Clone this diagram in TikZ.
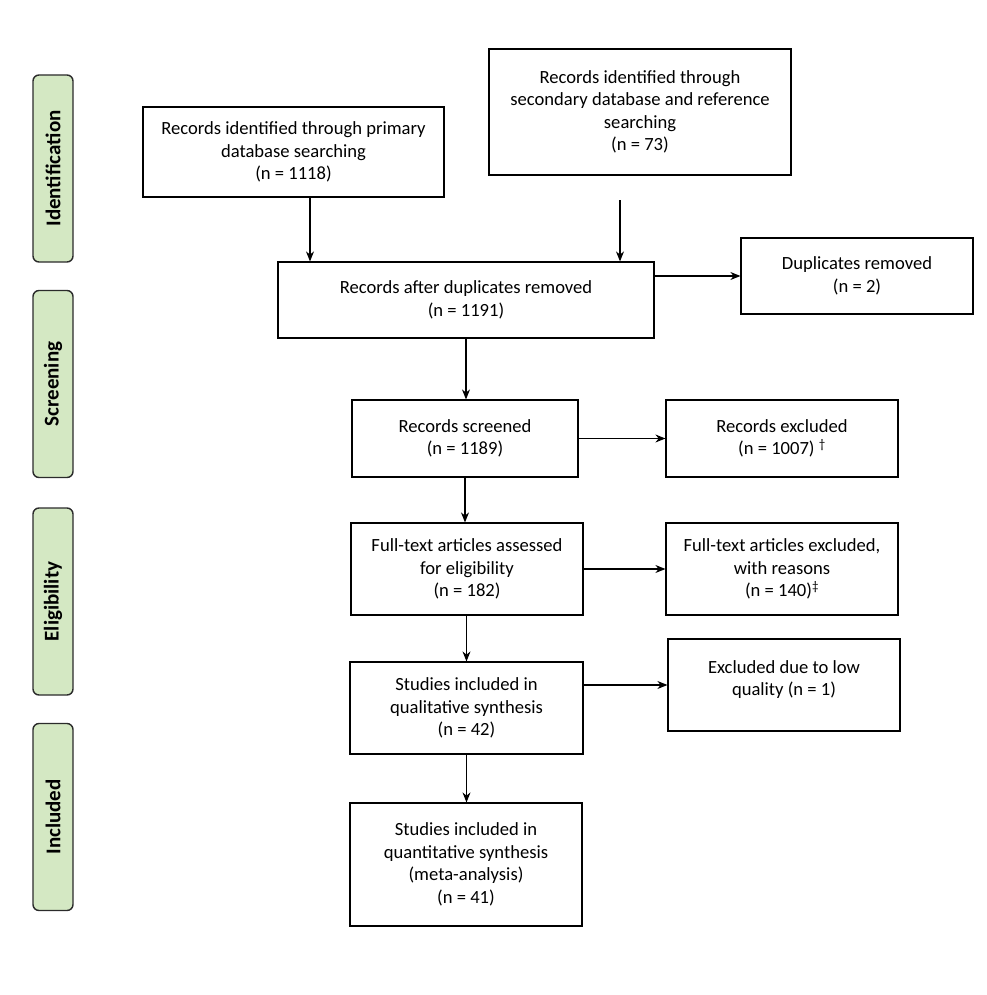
\documentclass[tikz,border=0pt]{standalone}
\usepackage{fontspec}
\setmainfont{Carlito}
\usetikzlibrary{positioning,arrows.meta}
\definecolor{tabgreen}{HTML}{D4E8C3}
\definecolor{tabline}{HTML}{2B2B2B}
\tikzset{
  stagebox/.style={draw=black, line width=1.2pt, align=center, inner sep=2pt,
    font=\fontsize{18.6}{22.5}\selectfont},
  phasetab/.style={fill=tabgreen, draw=tabline, line width=1.4pt, rounded corners=6pt,
    minimum width=187pt, minimum height=40pt, rotate=90,
    font=\bfseries\fontsize{21}{24}\selectfont},
  flow/.style={-{Stealth[length=10pt,width=8pt]}, line width=1.1pt}
}

\begin{document}
\begin{tikzpicture}[x=1pt, y=-1pt]
\useasboundingbox (0,0) rectangle (986,995);

% phase tabs
\node[phasetab] (tabid) at (53,168.5) {Identification};
\node[phasetab] (tabscr) at (53,384) {Screening};
\node[phasetab] (tabelig) at (53,601.5) {Eligibility};
\node[phasetab] (tabincl) at (53,817) {Included};

% boxes
\node[stagebox, minimum width=301pt, minimum height=90pt] (primary) at (293.5,152)
  {Records identified through primary\\database searching\\(n = 1118)};
\node[stagebox, minimum width=302pt, minimum height=126pt] (secondary) at (640,112)
  {Records identified through\\secondary database and reference\\searching\\(n = 73)};
\node[stagebox, minimum width=376pt, minimum height=76pt] (afterdup) at (466,300)
  {Records after duplicates removed\\(n = 1191)};
\node[stagebox, minimum width=232pt, minimum height=76pt] (dupl) at (857,276)
  {Duplicates removed\\(n = 2)};
\node[stagebox, minimum width=226pt, minimum height=77pt] (screened) at (465,438.5)
  {Records screened\\(n = 1189)};
\node[stagebox, minimum width=232pt, minimum height=77pt] (recexcl) at (782,438.5)
  {Records excluded\\(n = 1007) \textsuperscript{\dag}};
\node[stagebox, minimum width=232pt, minimum height=92pt] (assessed) at (467,569)
  {Full-text articles assessed\\for eligibility\\(n = 182)};
\node[stagebox, minimum width=232pt, minimum height=92pt] (ftexcl) at (782,569)
  {Full-text articles excluded,\\with reasons\\(n = 140)\textsuperscript{\ddag}};
\node[stagebox, minimum width=233pt, minimum height=92pt] (qual) at (466.5,708)
  {Studies included in\\qualitative synthesis\\(n = 42)};
\node[stagebox, minimum width=232pt, minimum height=92pt, text depth=14pt] (lowq) at (784,685)
  {Excluded due to low\\quality (n = 1)};
\node[stagebox, minimum width=232pt, minimum height=123pt] (quant) at (466,864.5)
  {Studies included in\\quantitative synthesis\\(meta-analysis)\\(n = 41)};

% connectors
\coordinate (pdrop) at (310,0);
\coordinate (sdrop) at (620,200);
\draw[flow] (primary.south -| pdrop) -- (afterdup.north -| pdrop);
\draw[flow] (sdrop) -- (afterdup.north -| sdrop);
\draw[flow] (afterdup.east |- dupl.west) -- (dupl.west);
\draw[flow] (afterdup.south) -- (afterdup.south |- screened.north);
\draw[flow] (screened.east) -- (recexcl.west |- screened.east);
\draw[flow] (screened.south) -- (screened.south |- assessed.north);
\draw[flow] (assessed.east) -- (ftexcl.west |- assessed.east);
\draw[flow] (assessed.south -| qual.north) -- (qual.north);
\draw[flow] (qual.east |- lowq.west) -- (lowq.west);
\draw[flow] (qual.south) -- (qual.south |- quant.north);
\end{tikzpicture}
\end{document}
